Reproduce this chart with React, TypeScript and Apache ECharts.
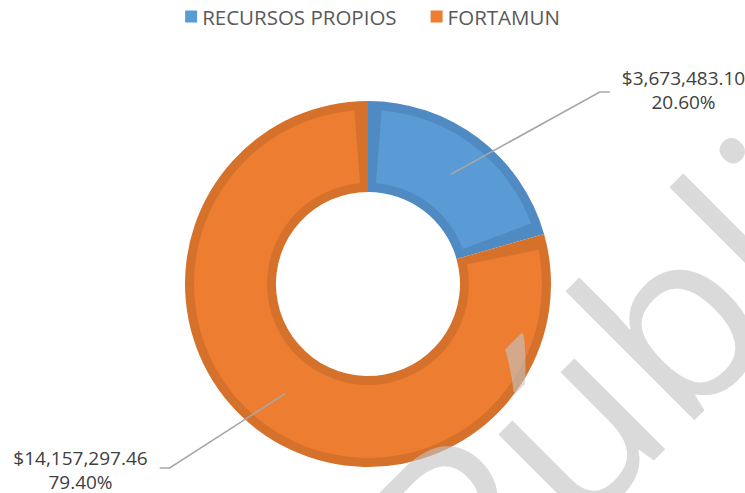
import React, { useEffect, useRef } from 'react';
import * as echarts from 'echarts';

// ---- data ----
const CATEGORIES: string[] = ['RECURSOS PROPIOS', 'FORTAMUN'];
const VALUES: number[] = [3673483.1, 14157297.46];
const FILL_COLORS: string[] = ['#5b9bd5', '#ed7d31'];
const EDGE_COLORS: string[] = ['#4f8ac2', '#d6712b'];
const WATERMARK = 'Públi';

// ---- layout ----
const W = 745;
const H = 493;
const CX = 368;
const CY = 284;
const R_IN = 92;
const R_OUT = 183;
const EDGE = 9;
const R_MID = (R_IN + R_OUT) / 2;
const LABEL_POS = [
  { x: 683.5, y: 90, side: 1, lineDy: 2 },
  { x: 80.5, y: 469.5, side: -1, lineDy: -1.5 },
];
const FONT = '"Open Sans", "Noto Sans", sans-serif';

function money(v: number): string {
  return '$' + v.toLocaleString('en-US', { minimumFractionDigits: 2, maximumFractionDigits: 2 });
}

export default function App() {
  const ref = useRef<HTMLDivElement>(null);
  useEffect(() => {
    if (!ref.current) return;
    const chart = echarts.init(ref.current, undefined, { renderer: 'svg' });
    const base = {
      type: 'pie',
      center: [CX, CY],
      startAngle: 90,
      clockwise: true,
      emphasis: { disabled: true },
    };
    const option: any = {
      animation: false,
      backgroundColor: '#ffffff',
      legend: {
        top: 1,
        left: 'center',
        icon: 'rect',
        itemWidth: 12,
        itemHeight: 12,
        itemGap: 34,
        textStyle: { fontFamily: FONT, fontSize: 20.5, color: '#595959' },
        data: CATEGORIES.map((n, i) => ({ name: n, itemStyle: { color: FILL_COLORS[i] } })),
      },
      series: [
        {
          ...base,
          name: 'edge',
          radius: [R_IN, R_OUT],
          z: 1,
          silent: true,
          label: { show: false },
          labelLine: { show: false },
          data: CATEGORIES.map((n, i) => ({ name: n, value: VALUES[i], itemStyle: { color: EDGE_COLORS[i] } })),
        },
        {
          ...base,
          name: 'fill',
          radius: [R_IN + EDGE, R_OUT - EDGE],
          padAngle: 9,
          z: 2,
          silent: true,
          label: { show: false },
          labelLine: { show: false },
          data: CATEGORIES.map((n, i) => ({ name: n, value: VALUES[i], itemStyle: { color: FILL_COLORS[i] } })),
        },
        {
          ...base,
          name: 'labels',
          radius: [R_IN, R_MID],
          z: 3,
          silent: true,
          avoidLabelOverlap: false,
          itemStyle: { color: 'rgba(0,0,0,0)' },
          data: CATEGORIES.map((n, i) => ({ name: n, value: VALUES[i], itemStyle: { color: 'rgba(0,0,0,0)' } })),
          label: {
            show: true,
            position: 'outside',
            fontFamily: FONT,
            fontSize: 19,
            lineHeight: 24,
            color: '#404040',
            align: 'center',
            formatter: (p: any) => `${money(p.value)}\n${Number(p.percent).toFixed(2)}%`,
          },
          labelLine: {
            show: true,
            showAbove: true,
            length: 20,
            length2: 10,
            lineStyle: { color: '#a6a6a6', width: 1.6 },
          },
          labelLayout: (params: any) => {
            const i = params.dataIndex;
            const pos = LABEL_POS[i];
            const w = params.labelRect.width;
            const pts = params.labelLinePoints;
            const p0 = pts && pts[0] ? pts[0] : [CX + 1, CY];
            const dx = p0[0] - CX;
            const dy = p0[1] - CY;
            const len = Math.hypot(dx, dy) || 1;
            const ax = CX + (dx / len) * R_MID;
            const ay = CY + (dy / len) * R_MID;
            const edgeX = pos.x - (pos.side * w) / 2;
            const endX = edgeX - pos.side * 12;
            const elbowX = endX - pos.side * 10;
            const ly = pos.y + pos.lineDy;
            return {
              x: pos.x,
              y: pos.y,
              align: 'center',
              verticalAlign: 'middle',
              labelLinePoints: [
                [ax, ay],
                [elbowX, ly],
                [endX, ly],
              ],
            };
          },
        },
      ],
      graphic: [
        {
          type: 'text',
          x: 408,
          y: 575,
          rotation: Math.PI / 4,
          z: 100,
          silent: true,
          style: {
            text: WATERMARK,
            font: `normal 240px ${FONT}`,
            fill: 'rgba(195,195,195,0.62)',
            textAlign: 'left',
            textVerticalAlign: 'middle',
            align: 'left',
            verticalAlign: 'middle',
          },
        },
      ],
    };
    chart.setOption(option);
    return () => chart.dispose();
  }, []);
  return (
    <div
      ref={ref}
      style={{ position: 'fixed', left: 0, top: 0, width: W, height: H, background: '#fff' }}
    />
  );
}
